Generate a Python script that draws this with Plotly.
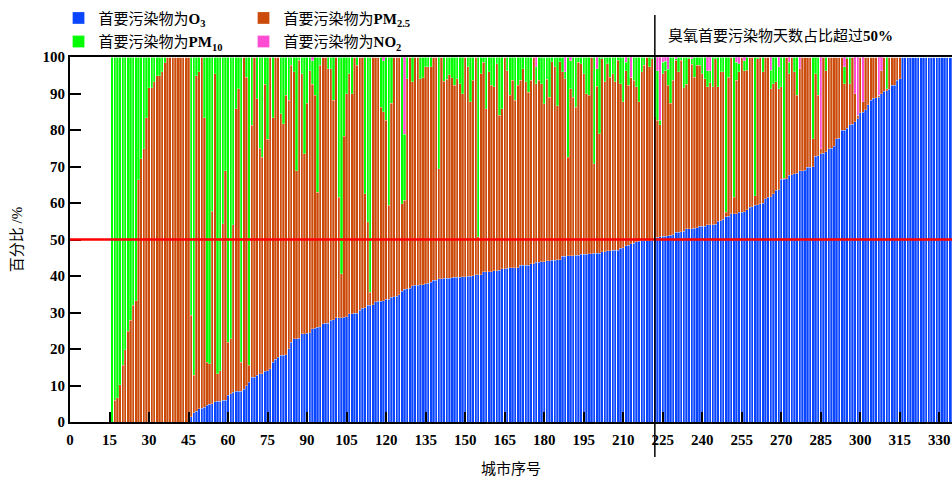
import plotly.graph_objects as go

# city index (cities 1-15 have no primary-pollutant days)
city = list(range(16, 338))

# share of days with each primary pollutant (%), city 16 .. 337
o3 = [
    # 16-45
    0, 0, 0, 0, 0, 0, 0, 0, 0, 0, 0, 0, 0, 0, 0, 0, 0, 0, 0, 0, 0, 0, 0, 0, 0, 0, 0, 0, 0, 0,
    # 46-73
    1.5, 2.5, 2.9, 3.6, 3.8, 4.1, 4.6, 4.8, 5.0, 5.5, 5.7, 5.7, 6.0, 6.0, 7.3, 7.8, 8.2, 8.4, 8.4, 8.4,
    9.0, 10.0, 10.9, 12.3, 12.3, 12.8, 13.2, 13.2,
    # 74-133
    13.9, 14.0, 14.6, 16.4, 17.2, 17.8, 18.3, 18.3, 18.4, 20.1,
    21.9, 22.8, 22.8, 23.0, 24.2, 24.2, 24.3, 24.4, 25.6, 25.7,
    26.0, 26.1, 26.9, 27.0, 27.1, 27.9, 28.0, 28.5, 28.5, 28.6,
    28.7, 28.8, 29.7, 29.7, 29.8, 29.8, 30.6, 31.2, 31.3, 32.0,
    32.0, 32.1, 33.0, 33.1, 33.1, 33.2, 33.6, 33.7, 34.2, 34.3,
    34.4, 34.9, 35.8, 36.4, 36.5, 36.7, 37.3, 37.4, 37.5, 37.6,
    # 134-192
    37.6, 37.9, 38.0, 38.3, 38.8, 38.9, 39.2, 39.2, 39.4, 39.4,
    39.4, 39.5, 39.7, 39.7, 39.7, 39.8, 39.8, 40.0, 40.0, 40.1,
    40.3, 40.3, 40.4, 41.1, 41.1, 41.2, 41.2, 41.5, 41.5, 41.6,
    42.0, 42.0, 42.1, 42.2, 42.2, 42.3, 42.3, 42.9, 42.9, 43.0,
    43.0, 43.3, 43.4, 43.8, 43.8, 43.9, 43.9, 44.2, 44.2, 44.3,
    44.3, 44.4, 44.5, 45.4, 45.4, 45.5, 45.6, 45.6, 45.7,
    # 193-252
    45.7, 46.0, 46.0, 46.0, 46.1, 46.1, 46.2, 46.2, 46.3, 46.7,
    46.7, 46.9, 46.9, 47.0, 47.0, 47.1, 47.6, 47.7, 48.3, 48.4,
    48.9, 49.0, 49.4, 49.5, 49.6, 49.6, 49.7, 49.7, 49.8, 50.5,
    50.6, 50.7, 50.9, 50.9, 51.0, 51.2, 51.3, 52.0, 52.0, 52.1,
    52.2, 52.9, 52.9, 53.0, 53.1, 53.2, 53.6, 53.6, 53.7, 54.0,
    54.0, 54.1, 54.2, 55.0, 55.1, 55.6, 56.3, 56.4, 57.0, 57.0,
    # 253-315
    57.0, 57.5, 57.5, 57.6, 58.2, 58.9, 59.0, 59.4, 59.5, 59.8,
    59.9, 61.2, 61.6, 61.7, 62.5, 63.5, 63.6, 66.5, 66.5, 66.6,
    67.6, 67.7, 68.0, 68.1, 68.9, 68.9, 69.0, 69.8, 69.8, 69.9,
    72.8, 72.9, 73.5, 73.6, 74.1, 74.9, 75.0, 75.6, 77.6, 77.7,
    79.9, 80.0, 80.5, 81.5, 81.6, 82.2, 83.1, 84.7, 84.8, 85.6,
    86.9, 88.1, 88.7, 88.8, 89.0, 89.9, 90.6, 90.7, 91.1, 92.2,
    92.3, 93.6, 94.0,
    # 316-337
    100, 100, 100, 100, 100, 100, 100, 100, 100, 100, 100,
    100, 100, 100, 100, 100, 100, 100, 100, 100, 100, 100,
]

pm25 = [
    # 16-45
    0, 5.9, 6.6, 10.2, 15.5, 19.8, 24.8, 27.9, 32.0, 33.2, 66.4, 72.1, 74.9, 83.3, 91.6,
    91.6, 93.2, 94.8, 94.8, 95.9, 98.4, 100, 100, 100, 100, 100, 100, 100, 100, 100,
    # 46-73
    27.7, 10.3, 92.0, 92.3, 96.2, 79.2, 11.8, 11.2, 52.7, 89.9, 7.5, 8.4, 48.3, 62.9, 14.6,
    15.0, 45.8, 77.4, 82.9, 8.0, 91.0, 84.5, 4.6, 69.0, 87.7, 75.8, 61.8, 59.4,
    # 74-133
    78.7, 63.4, 85.4, 66.9, 82.8, 82.2, 66.2, 63.4, 71.1, 68.1,
    75.8, 73.1, 46.1, 76.1, 71.2, 49.3, 63.0, 71.9, 67.0, 63.8,
    37.0, 71.6, 73.1, 73.0, 69.7, 68.9, 60.2, 71.5, 33.1, 12.0,
    49.6, 61.2, 65.7, 60.3, 70.2, 67.9, 69.4, 68.8, 31.2, 22.8,
    3.6, 67.9, 67.0, 66.9, 53.2, 51.8, 49.1, 25.7, 53.1, 65.7,
    65.6, 65.1, 24.0, 24.3, 57.6, 63.3, 55.9, 62.6, 62.5, 56.5,
    # 134-192
    56.7, 59.4, 59.3, 59.0, 61.2, 61.1, 30.2, 60.8, 53.9, 54.5,
    55.8, 54.8, 52.5, 54.4, 53.0, 50.2, 60.2, 57.3, 47.7, 53.5,
    59.7, 10.4, 55.0, 57.5, 44.7, 54.7, 51.0, 50.3, 56.7, 42.4,
    43.8, 58.0, 54.2, 47.3, 51.4, 45.8, 49.9, 50.7, 53.9, 50.2,
    47.4, 50.3, 56.6, 48.9, 49.8, 48.8, 43.3, 49.7, 44.8, 54.4,
    53.0, 42.3, 54.2, 50.5, 48.6, 27.1, 45.7, 43.4, 40.6,
    # 193-252
    52.9, 52.2, 49.4, 43.9, 43.4, 53.9, 24.6, 45.8, 32.7, 52.8,
    46.5, 51.3, 47.6, 48.4, 46.2, 52.0, 45.1, 40.0, 48.0, 43.8,
    45.6, 44.6, 42.4, 38.2, 46.3, 48.1, 50.3, 47.6, 49.7, 33.2,
    32.1, 30.8, 44.5, 45.4, 41.2, 36.1, 42.3, 47.1, 43.9, 47.0,
    39.4, 39.6, 46.6, 45.0, 41.4, 44.5, 44.1, 41.8, 40.4, 37.8,
    39.0, 37.7, 45.3, 36.8, 40.8, 40.3, 1.2, 38.1, 43.0, 4.6,
    # 253-315
    36.6, 38.4, 42.5, 38.7, 38.2, 41.1, 41.0, 2.6, 40.0, 40.2,
    36.0, 38.8, 38.4, 29.6, 30.2, 29.7, 27.7, 25.3, 0.3, 33.4,
    27.8, 32.3, 27.9, 21.4, 27.9, 31.1, 31.0, 30.2, 30.2, 7.7,
    22.6, 16.6, 1.4, 26.4, 22.2, 25.1, 25.0, 24.4, 22.4, 22.3,
    20.1, 12.7, 19.0, 11.2, 18.4, 7.8, 0.9, 15.3, 2.9, 14.4,
    13.1, 11.9, 11.3, 11.2, 0.5, 6.4, 9.4, 0.6, 8.9, 7.8,
    7.7, 6.4, 6.0,
    # 316-337
    0, 0, 0, 0, 0, 0, 0, 0, 0, 0, 0, 0, 0, 0, 0, 0, 0, 0, 0, 0, 0, 0,
]

pm10 = [
    # 16-45
    100, 94.1, 93.4, 89.8, 84.5, 80.2, 75.2, 72.1, 68.0, 66.8, 33.6, 27.9, 25.1, 16.7, 8.4,
    8.4, 6.8, 5.2, 5.2, 4.1, 1.6, 0, 0, 0, 0, 0, 0, 0, 0, 0,
    # 46-73
    70.8, 87.2, 5.1, 4.1, 0, 16.7, 83.6, 84.0, 42.3, 4.6, 86.8, 85.9, 45.7, 31.1, 78.1,
    77.2, 46.0, 14.2, 8.7, 83.6, 0, 5.5, 84.5, 18.7, 0, 11.4, 25.0, 27.4,
    # 74-133
    7.4, 22.6, 0, 16.7, 0, 0, 15.5, 18.3, 10.5, 11.8,
    2.3, 4.1, 31.1, 0.9, 4.6, 26.5, 12.7, 3.7, 6.4, 10.5,
    37.0, 2.3, 0, 0, 3.2, 3.2, 11.8, 0, 38.4, 59.4,
    21.7, 10.0, 4.6, 10.0, 0, 2.3, 0, 0, 37.5, 45.2,
    64.4, 0, 0, 0, 13.7, 14.0, 17.3, 40.6, 12.7, 0,
    0, 0, 40.2, 18.2, 5.9, 0, 6.8, 0, 0, 5.9,
    # 134-192
    5.7, 2.7, 2.7, 2.7, 0, 0, 30.6, 0, 6.7, 6.1,
    4.8, 5.7, 7.8, 5.9, 7.3, 10.0, 0, 2.7, 12.3, 6.4,
    0, 49.3, 4.6, 1.4, 14.2, 4.1, 7.8, 8.2, 1.8, 16.0,
    14.2, 0, 3.7, 10.5, 6.4, 11.9, 7.8, 6.4, 3.2, 6.8,
    9.6, 6.4, 0, 4.6, 6.4, 7.3, 12.8, 6.1, 11.0, 1.3,
    2.7, 13.3, 1.3, 4.1, 1.9, 27.4, 7.7, 11.0, 13.7,
    # 193-252
    1.4, 1.8, 4.6, 10.1, 10.5, 0, 29.2, 4.8, 21.0, 0.5,
    6.8, 1.8, 5.5, 4.6, 6.8, 0.9, 7.3, 12.3, 2.3, 7.8,
    0, 6.4, 8.2, 12.3, 4.1, 2.3, 0, 2.7, 0.5, 16.3,
    13.6, 1.2, 3.2, 2.6, 4.4, 12.7, 6.4, 0.4, 4.1, 0.9,
    8.4, 7.5, 0.5, 1.5, 5.5, 2.3, 2.3, 4.6, 5.9, 4.5,
    3.3, 8.2, 0.5, 8.2, 4.1, 4.1, 42.5, 5.5, 0, 38.4,
    # 253-315
    5.0, 2.3, 0, 2.7, 3.6, 0, 0, 38.0, 0.5, 0,
    4.1, 0, 0, 5.1, 7.3, 6.8, 6.0, 8.2, 33.2, 0,
    3.2, 0, 4.1, 10.5, 0, 0, 0, 0, 0, 22.4,
    4.6, 10.5, 0, 0, 3.7, 0, 0, 0, 0, 0,
    0, 4.6, 0.5, 7.3, 0, 0, 0, 0, 0, 0,
    0, 0, 0, 0, 0, 0, 0, 8.7, 0, 0,
    0, 0, 0,
    # 316-337
    0, 0, 0, 0, 0, 0, 0, 0, 0, 0, 0, 0, 0, 0, 0, 0, 0, 0, 0, 0, 0, 0,
]

no2 = [
    # 16-45
    0, 0, 0, 0, 0, 0, 0, 0, 0, 0, 0, 0, 0, 0, 0, 0, 0, 0, 0, 0, 0, 0, 0, 0, 0, 0, 0, 0, 0, 0,
    # 46-73
    0, 0, 0, 0, 0, 0, 0, 0, 0, 0, 0, 0, 0, 0, 0, 0, 0, 0, 0, 0, 0, 0, 0, 0, 0, 0, 0, 0,
    # 74-133
    0, 0, 0, 0, 0, 0, 0, 0, 0, 0,
    0, 0, 0, 0, 0, 0, 0, 0, 1.0, 0,
    0, 0, 0, 0, 0, 0, 0, 0, 0, 0,
    0, 0, 0, 0, 0, 0, 0, 0, 0, 0,
    0, 0, 0, 0, 0, 1.0, 0, 0, 0, 0,
    0, 0, 0, 21.1, 0, 0, 0, 0, 0, 0,
    # 134-192
    0, 0, 0, 0, 0, 0, 0, 0, 0, 0,
    0, 0, 0, 0, 0, 0, 0, 0, 0, 0,
    0, 0, 0, 0, 0, 0, 0, 0, 0, 0,
    0, 0, 0, 0, 0, 0, 0, 0, 0, 0,
    0, 0, 0, 2.7, 0, 0, 0, 0, 0, 0,
    0, 0, 0, 0, 4.1, 0, 1.0, 0, 0,
    # 193-252
    0, 0, 0, 0, 0, 0, 0, 3.2, 0, 0,
    0, 0, 0, 0, 0, 0, 0, 0, 1.4, 0,
    5.5, 0, 0, 0, 0, 0, 0, 0, 0, 0,
    3.7, 17.3, 1.4, 1.1, 3.4, 0, 0, 0.5, 0, 0,
    0, 0, 0, 0.5, 0, 0, 0, 0, 0, 3.7,
    3.7, 0, 0, 0, 0, 0, 0, 0, 0, 0,
    # 253-315
    1.4, 1.8, 0, 1.0, 0, 0, 0, 0, 0, 0,
    0, 0, 0, 3.6, 0, 0, 2.7, 0, 0, 0,
    1.4, 0, 0, 0, 3.2, 0, 0, 0, 0, 0,
    0, 0, 25.1, 0, 0, 0, 0, 0, 0, 0,
    0, 2.7, 0, 0, 0, 10.0, 16.0, 0, 12.3, 0,
    0, 0, 0, 0, 10.5, 3.7, 0, 0, 0, 0,
    0, 0, 0,
    # 316-337
    0, 0, 0, 0, 0, 0, 0, 0, 0, 0, 0, 0, 0, 0, 0, 0, 0, 0, 0, 0, 0, 0,
]

names = ["首要污染物为<b>O</b><sub><b>3</b></sub>",
         "首要污染物为<b>PM</b><sub><b>2.5</b></sub>",
         "首要污染物为<b>PM</b><sub><b>10</b></sub>",
         "首要污染物为<b>NO</b><sub><b>2</b></sub>"]
colors = ["#0A46FF", "#CC4A0A", "#00FF00", "#FF4CD2"]
x_ticks = list(range(0, 331, 15))
y_ticks = list(range(0, 101, 10))
threshold = 50
split_city = 222

FONT = "Liberation Serif, Noto Sans CJK SC, serif"

fig = go.Figure()
for vals, nm, col, lg in zip([o3, pm25, pm10, no2], names, colors, ["legend", "legend", "legend2", "legend2"]):
    fig.add_trace(go.Bar(
        x=city, y=vals, name=nm, legend=lg,
        marker=dict(color=col, line=dict(color="rgba(255,255,255,0.55)", width=0.5)),
        hoverinfo="skip",
    ))

legend_common = dict(orientation="h", xref="paper", yref="paper", xanchor="left", yanchor="middle",
                     entrywidth=140, entrywidthmode="pixels", traceorder="normal",
                     font=dict(family=FONT, size=15), bgcolor="rgba(0,0,0,0)",
                     itemclick=False, tracegroupgap=0)

fig.update_layout(
    width=952, height=483,
    margin=dict(l=70, r=0, t=57, b=61, autoexpand=False),
    barmode="stack", bargap=0.12,
    plot_bgcolor="white", paper_bgcolor="white",
    font=dict(family=FONT, color="black", size=15),
    legend=dict(legend_common, x=-0.013, y=1.1065),
    legend2=dict(legend_common, x=-0.013, y=1.0415),
    xaxis=dict(range=[0, 334.8], tickvals=x_ticks, ticks="inside", ticklen=10, tickwidth=1.5,
               tickcolor="black", showline=True, linewidth=2, linecolor="black", mirror=True,
               showgrid=False, zeroline=False, automargin=False, ticklabelstandoff=3,
               tickfont=dict(family="Liberation Serif", size=15, weight="bold"),
               title=dict(text="城市序号", font=dict(family=FONT, size=15), standoff=16)),
    yaxis=dict(range=[0, 100], tickvals=y_ticks, ticks="inside", ticklen=11, tickwidth=2,
               tickcolor="black", showline=True, linewidth=2, linecolor="black",
               showgrid=False, zeroline=False, automargin=False,
               tickfont=dict(family="Liberation Serif", size=15, weight="bold"),
               title=dict(text="百分比 /%", font=dict(family=FONT, size=15), standoff=16)),
)

fig.add_shape(type="line", xref="paper", yref="y", x0=0, x1=1, y0=threshold, y1=threshold,
              line=dict(color="#FF0000", width=2.5), layer="above")
fig.add_shape(type="line", xref="x", yref="paper", x0=split_city, x1=split_city, y0=-0.096, y1=1.115,
              line=dict(color="black", width=1.5), layer="above")
fig.add_annotation(xref="x", yref="paper", x=split_city + 4.3, y=1.0575, xanchor="left", yanchor="middle",
                   text="臭氧首要污染物天数占比超过<b>50%</b>", showarrow=False,
                   font=dict(family=FONT, size=15, color="black"))

fig.write_html("out.html", config={"displayModeBar": False},
               post_script="document.body.style.margin='0';document.body.style.overflow='hidden';")
